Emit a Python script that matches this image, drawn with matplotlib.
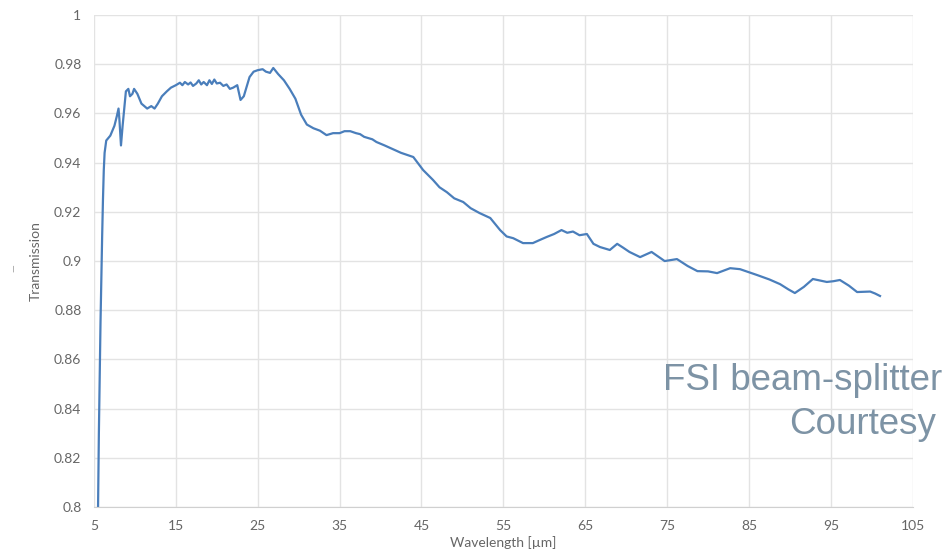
import matplotlib
matplotlib.use("Agg")
import matplotlib.pyplot as plt

plt.rcParams["font.family"] = ["Lato", "DejaVu Sans"]

# transmission curve
wavelength = [5.5, 5.6, 5.7, 5.8, 5.9, 6.0, 6.1, 6.2, 6.3, 6.5, 7.0, 7.5, 7.8, 8.0,
              8.1, 8.3, 8.5, 8.7, 8.9, 9.2, 9.4, 9.7, 9.9, 10.3, 10.8, 11.5, 12.0,
              12.4, 12.8, 13.3, 13.9, 14.4, 15.0, 15.5, 15.8, 16.1, 16.5, 16.8,
              17.1, 17.5, 17.8, 18.1, 18.4, 18.8, 19.1, 19.4, 19.7, 20.0, 20.4,
              20.8, 21.2, 21.6, 22.0, 22.5, 22.9, 23.3, 24.0, 24.5, 25.0, 25.6,
              26.0, 26.5, 26.9, 27.5, 28.2, 28.9, 29.6, 30.3, 31.0, 31.8, 32.6,
              33.4, 34.2, 35.0, 35.6, 36.3, 37.0, 37.5, 38.0, 38.5, 39.0, 39.5,
              40.5, 41.5, 42.5, 44.0, 45.2, 46.4, 47.2, 48.1, 49.0, 50.1, 51.0,
              52.1, 53.4, 54.6, 55.4, 56.2, 57.4, 58.6, 59.4, 60.3, 61.2, 62.1,
              62.8, 63.5, 64.3, 65.2, 66.0, 66.8, 68.0, 68.9, 69.6, 70.4, 71.7,
              73.1, 74.7, 76.2, 77.5, 78.7, 80.0, 81.1, 82.7, 83.9, 86.0, 87.5,
              88.8, 89.8, 90.6, 91.7, 92.8, 94.5, 95.3, 96.1, 97.2, 98.2, 99.8,
              100.4, 101.0]
transmission = [0.800, 0.830, 0.852, 0.875, 0.893, 0.910, 0.925, 0.937, 0.944,
                0.949, 0.951, 0.955, 0.959, 0.962, 0.958, 0.947, 0.955, 0.962,
                0.969, 0.970, 0.967, 0.968, 0.970, 0.968, 0.964, 0.962, 0.963,
                0.962, 0.964, 0.967, 0.969, 0.9705, 0.9715, 0.9725, 0.9715,
                0.9728, 0.9718, 0.9726, 0.9712, 0.9722, 0.9735, 0.9718, 0.9728,
                0.9715, 0.9735, 0.972, 0.9738, 0.9722, 0.9725, 0.9712, 0.9718,
                0.970, 0.9705, 0.9715, 0.9655, 0.967, 0.9748, 0.977, 0.9776,
                0.978, 0.977, 0.9765, 0.9785, 0.976, 0.9735, 0.970, 0.966,
                0.9595, 0.9555, 0.954, 0.953, 0.9512, 0.952, 0.952, 0.9528,
                0.9528, 0.952, 0.9516, 0.9505, 0.950, 0.9495, 0.9484, 0.947,
                0.9455, 0.944, 0.9423, 0.937, 0.933, 0.930, 0.928, 0.9255,
                0.924, 0.9215, 0.9195, 0.9175, 0.9126, 0.910, 0.9093, 0.9073,
                0.9073, 0.9085, 0.9098, 0.911, 0.9126, 0.9115, 0.912, 0.9105,
                0.911, 0.907, 0.9057, 0.9045, 0.907, 0.9055, 0.9037, 0.9016,
                0.9037, 0.900, 0.9008, 0.898, 0.8959, 0.8958, 0.8951, 0.8971,
                0.8967, 0.8943, 0.8925, 0.8906, 0.8885, 0.887, 0.8895, 0.8927,
                0.8915, 0.8918, 0.8923, 0.890, 0.8874, 0.8876, 0.8868, 0.8858]

xticks = [5, 15, 25, 35, 45, 55, 65, 75, 85, 95, 105]
yticks = [0.8, 0.82, 0.84, 0.86, 0.88, 0.9, 0.92, 0.94, 0.96, 0.98, 1.0]
ylabels = ["0.8", "0.82", "0.84", "0.86", "0.88", "0.9", "0.92", "0.94",
           "0.96", "0.98", "1"]

fig = plt.figure(figsize=(9.51, 5.59), dpi=100)
ax = fig.add_axes([0.0988, 0.093, 0.861, 0.880])

ax.plot(wavelength, transmission, color="#4a7ebb", linewidth=1.6)

ax.set_xlim(5, 105)
ax.set_ylim(0.8, 1.0)
ax.set_xticks(xticks)
ax.set_yticks(yticks)
ax.set_yticklabels(ylabels)
ax.grid(True, color="#e3e3e3", linewidth=1)
ax.set_axisbelow(True)
for s in ["top", "right", "left"]:
    ax.spines[s].set_visible(False)
ax.spines["bottom"].set_color("#d0d0d0")
ax.tick_params(length=0, labelsize=10, colors="#666666", pad=9)

ax.set_xlabel("Wavelength [µm]", fontsize=10, color="#666666", labelpad=3)
ax.set_ylabel("Transmission", fontsize=10, color="#666666", labelpad=9)

fig.text(14 / 951, 1 - 268 / 559, "—", rotation=90, fontsize=7,
         color="#999999", ha="center", va="center")

fig.text(942 / 951, 1 - 380 / 559, "FSI beam-splitter", fontsize=26.5,
         color="#7d93a5", ha="right", va="center", family="Liberation Sans")
fig.text(936 / 951, 1 - 424 / 559, "Courtesy", fontsize=26.5,
         color="#7d93a5", ha="right", va="center", family="Liberation Sans")

fig.savefig("out.png", dpi=100)
